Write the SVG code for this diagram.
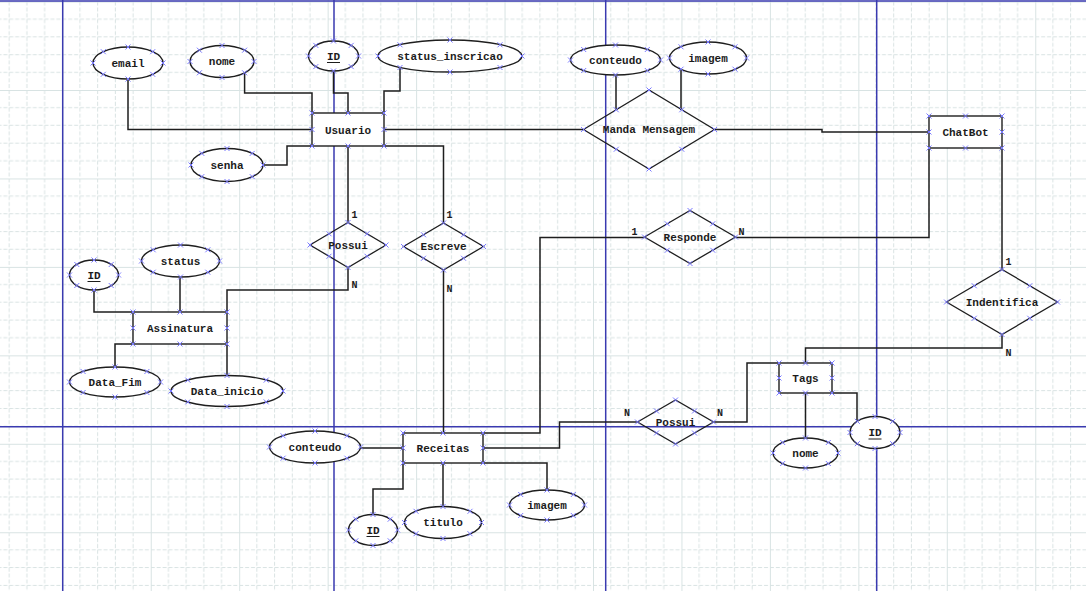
<svg xmlns="http://www.w3.org/2000/svg" xmlns:xlink="http://www.w3.org/1999/xlink" width="1086" height="591" viewBox="0 0 1086 591">
  <style>
    .lbl { font-family: "Liberation Mono", "DejaVu Sans Mono", monospace; font-size: 11px; font-weight: bold; fill: #1c1c1c; text-anchor: middle; }
    .card { font-family: "Liberation Mono", "DejaVu Sans Mono", monospace; font-size: 10px; font-weight: bold; fill: #1c1c1c; text-anchor: middle; }
    .ent { fill: #ffffff; stroke: #1e1e1e; stroke-width: 1.4; }
    .att { fill: #ffffff; stroke: #1e1e1e; stroke-width: 1.4; }
    .rel { fill: none; stroke: #1e1e1e; stroke-width: 1.3; }
    .page { stroke: #3a3ab0; stroke-width: 1.5; fill: none; }
    #links path { fill: none; stroke: #1e1e1e; stroke-width: 1.5; }
    .ul { stroke: #1c1c1c; stroke-width: 1; }
  </style>
  <defs>
    <!-- drawing grid: dashed minor lines, solid major lines every fifth -->
    <pattern id="grid" patternUnits="userSpaceOnUse" x="62.3" y="1.55" width="88.45" height="88.45">
      <g stroke="#d9e3e3" stroke-width="1" stroke-dasharray="4 1.897">
        <path d="M17.69 0V88.45M35.38 0V88.45M53.07 0V88.45M70.76 0V88.45"/>
        <path d="M0 17.69H88.45M0 35.38H88.45M0 53.07H88.45M0 70.76H88.45"/>
      </g>
      <path d="M0.5 0V88.45M0 0.5H88.45" stroke="#d8e3e3" stroke-width="1"/>
    </pattern>
    <!-- connection handle -->
    <path id="h" d="M-2.5 -2.5L2.5 2.5M-2.5 2.5L2.5 -2.5" stroke="#7a7aff" stroke-width="1" fill="none"/>
  </defs>

  <rect width="1086" height="591" fill="#ffffff"/>
  <rect width="1086" height="591" fill="url(#grid)"/>

  <!-- page break lines -->
  <g class="page">
    <path d="M62.7 0V591M334 0V591M605.7 0V591M876.7 0V591"/>
    <path d="M0 1H1086M0 426.7H1086"/>
  </g>

  <g id="links">
    <path d="M128 79V129.5H312"/>
    <path d="M244.6 72.8V93H312V113"/>
    <path d="M333.5 71V93H348V113"/>
    <path d="M400 67.5V91H384V113"/>
    <path d="M263 165H287V146H312"/>
    <path d="M384 129.5H583.5"/>
    <path d="M616 75V109.75"/>
    <path d="M681 69.2V109.75"/>
    <path d="M714.5 129.5H822V132H929"/>
    <path d="M348 146V222.5"/>
    <path d="M348 267.5V290H227V312"/>
    <path d="M384 146H443.5V223"/>
    <path d="M443.5 270V433"/>
    <path d="M929 148V237.5H735.5"/>
    <path d="M644.5 237.5H540V433H483"/>
    <path d="M94 290V312H133"/>
    <path d="M180 277V312"/>
    <path d="M115 367V344H133"/>
    <path d="M227 375.5V344"/>
    <path d="M360.5 448H403"/>
    <path d="M373 514.5V489H403V463"/>
    <path d="M443 506.5V463"/>
    <path d="M547 490V463H483"/>
    <path d="M483 448H559.5V422H637.5"/>
    <path d="M713.5 422H747V363H779"/>
    <path d="M805.5 363V348H1002V334.5"/>
    <path d="M1002 148V269.5"/>
    <path d="M805.5 393V438"/>
    <path d="M832 393H857V421.5"/>
  </g>

  <!-- entities -->
  <g id="usuario">
    <rect class="ent" x="312" y="113" width="72" height="33"/>
    <text class="lbl" x="348" y="133.5">Usuario</text>
    <use href="#h" x="312" y="113"/><use href="#h" x="348" y="113"/><use href="#h" x="384" y="113"/>
    <use href="#h" x="312" y="129.5"/><use href="#h" x="384" y="129.5"/>
    <use href="#h" x="312" y="146"/><use href="#h" x="348" y="146"/><use href="#h" x="384" y="146"/>
  </g>
  <g id="chatbot">
    <rect class="ent" x="929" y="116" width="73" height="32"/>
    <text class="lbl" x="965.5" y="135.5">ChatBot</text>
    <use href="#h" x="929" y="116"/><use href="#h" x="965.5" y="116"/><use href="#h" x="1002" y="116"/>
    <use href="#h" x="929" y="132"/><use href="#h" x="1002" y="132"/>
    <use href="#h" x="929" y="148"/><use href="#h" x="965.5" y="148"/><use href="#h" x="1002" y="148"/>
  </g>
  <g id="assinatura">
    <rect class="ent" x="133" y="312" width="94" height="32"/>
    <text class="lbl" x="180" y="331.5">Assinatura</text>
    <use href="#h" x="133" y="312"/><use href="#h" x="180" y="312"/><use href="#h" x="227" y="312"/>
    <use href="#h" x="133" y="328"/><use href="#h" x="227" y="328"/>
    <use href="#h" x="133" y="344"/><use href="#h" x="180" y="344"/><use href="#h" x="227" y="344"/>
  </g>
  <g id="receitas">
    <rect class="ent" x="403" y="433" width="80" height="30"/>
    <text class="lbl" x="443" y="451.5">Receitas</text>
    <use href="#h" x="403" y="433"/><use href="#h" x="443" y="433"/><use href="#h" x="483" y="433"/>
    <use href="#h" x="403" y="448"/><use href="#h" x="483" y="448"/>
    <use href="#h" x="403" y="463"/><use href="#h" x="443" y="463"/><use href="#h" x="483" y="463"/>
  </g>
  <g id="tags">
    <rect class="ent" x="779" y="363" width="53" height="30"/>
    <text class="lbl" x="805.5" y="381.5">Tags</text>
    <use href="#h" x="779" y="363"/><use href="#h" x="805.5" y="363"/><use href="#h" x="832" y="363"/>
    <use href="#h" x="779" y="378"/><use href="#h" x="832" y="378"/>
    <use href="#h" x="779" y="393"/><use href="#h" x="805.5" y="393"/><use href="#h" x="832" y="393"/>
  </g>

  <!-- relationships -->
  <g id="manda-mensagem">
    <path class="rel" d="M583.5 129.5L649 90L714.5 129.5L649 169Z"/>
    <text class="lbl" x="649" y="133">Manda Mensagem</text>
    <use href="#h" x="583.5" y="129.5"/><use href="#h" x="714.5" y="129.5"/><use href="#h" x="649" y="90"/><use href="#h" x="649" y="169"/>
    <use href="#h" x="616.25" y="109.75"/><use href="#h" x="681.75" y="109.75"/><use href="#h" x="616.25" y="149.25"/><use href="#h" x="681.75" y="149.25"/>
  </g>
  <g id="responde">
    <path class="rel" d="M644.5 237L690 210.5L735.5 237L690 263.5Z"/>
    <text class="lbl" x="690" y="240.5">Responde</text>
    <use href="#h" x="644.5" y="237"/><use href="#h" x="735.5" y="237"/><use href="#h" x="690" y="210.5"/><use href="#h" x="690" y="263.5"/>
    <use href="#h" x="667.25" y="223.75"/><use href="#h" x="712.75" y="223.75"/><use href="#h" x="667.25" y="250.25"/><use href="#h" x="712.75" y="250.25"/>
    <text class="card" x="634.5" y="234.5">1</text>
    <text class="card" x="741.5" y="234.5">N</text>
  </g>
  <g id="possui-assinatura">
    <path class="rel" d="M310 245L348 222.5L386 245L348 267.5Z"/>
    <text class="lbl" x="348" y="248.5">Possui</text>
    <use href="#h" x="310" y="245"/><use href="#h" x="386" y="245"/><use href="#h" x="348" y="222.5"/><use href="#h" x="348" y="267.5"/>
    <use href="#h" x="329" y="233.75"/><use href="#h" x="367" y="233.75"/><use href="#h" x="329" y="256.25"/><use href="#h" x="367" y="256.25"/>
    <text class="card" x="354.5" y="217.5">1</text>
    <text class="card" x="354.5" y="287.5">N</text>
  </g>
  <g id="escreve">
    <path class="rel" d="M403.5 246.5L443.5 223L483.5 246.5L443.5 270Z"/>
    <text class="lbl" x="443.5" y="250">Escreve</text>
    <use href="#h" x="403.5" y="246.5"/><use href="#h" x="483.5" y="246.5"/><use href="#h" x="443.5" y="223"/><use href="#h" x="443.5" y="270"/>
    <use href="#h" x="423.5" y="234.75"/><use href="#h" x="463.5" y="234.75"/><use href="#h" x="423.5" y="258.25"/><use href="#h" x="463.5" y="258.25"/>
    <text class="card" x="449.5" y="217.5">1</text>
    <text class="card" x="449.5" y="291.5">N</text>
  </g>
  <g id="indentifica">
    <path class="rel" d="M946.5 302L1002 269.5L1057.5 302L1002 334.5Z"/>
    <text class="lbl" x="1002" y="305.5">Indentifica</text>
    <use href="#h" x="946.5" y="302"/><use href="#h" x="1057.5" y="302"/><use href="#h" x="1002" y="269.5"/><use href="#h" x="1002" y="334.5"/>
    <use href="#h" x="974.25" y="285.75"/><use href="#h" x="1029.75" y="285.75"/><use href="#h" x="974.25" y="318.25"/><use href="#h" x="1029.75" y="318.25"/>
    <text class="card" x="1008.5" y="264.5">1</text>
    <text class="card" x="1008.5" y="355.5">N</text>
  </g>
  <g id="possui-tags">
    <path class="rel" d="M637.5 422L675.5 400L713.5 422L675.5 444Z"/>
    <text class="lbl" x="675.5" y="425.5">Possui</text>
    <use href="#h" x="637.5" y="422"/><use href="#h" x="713.5" y="422"/><use href="#h" x="675.5" y="400"/><use href="#h" x="675.5" y="444"/>
    <use href="#h" x="656.5" y="411"/><use href="#h" x="694.5" y="411"/><use href="#h" x="656.5" y="433"/><use href="#h" x="694.5" y="433"/>
    <text class="card" x="627" y="415.5">N</text>
    <text class="card" x="720" y="415.5">N</text>
  </g>

  <!-- attributes -->
  <g id="usuario-email">
    <ellipse class="att" cx="128" cy="63" rx="35" ry="16"/>
    <text class="lbl" x="128" y="66.5">email</text>
    <use href="#h" x="128" y="47"/><use href="#h" x="128" y="79"/><use href="#h" x="93" y="63"/><use href="#h" x="163" y="63"/>
    <use href="#h" x="103.3" y="51.7"/><use href="#h" x="152.7" y="51.7"/><use href="#h" x="103.3" y="74.3"/><use href="#h" x="152.7" y="74.3"/>
  </g>
  <g id="usuario-nome">
    <ellipse class="att" cx="222" cy="61.5" rx="32" ry="16"/>
    <text class="lbl" x="222" y="65">nome</text>
    <use href="#h" x="222" y="45.5"/><use href="#h" x="222" y="77.5"/><use href="#h" x="190" y="61.5"/><use href="#h" x="254" y="61.5"/>
    <use href="#h" x="199.4" y="50.2"/><use href="#h" x="244.6" y="50.2"/><use href="#h" x="199.4" y="72.8"/><use href="#h" x="244.6" y="72.8"/>
  </g>
  <g id="usuario-id">
    <ellipse class="att" cx="333.5" cy="56" rx="25" ry="15"/>
    <text class="lbl" x="333.5" y="59.5">ID</text>
    <line class="ul" x1="327" y1="62.5" x2="340" y2="62.5"/>
    <use href="#h" x="333.5" y="41"/><use href="#h" x="333.5" y="71"/><use href="#h" x="308.5" y="56"/><use href="#h" x="358.5" y="56"/>
    <use href="#h" x="315.8" y="45.4"/><use href="#h" x="351.2" y="45.4"/><use href="#h" x="315.8" y="66.6"/><use href="#h" x="351.2" y="66.6"/>
  </g>
  <g id="usuario-status-inscricao">
    <ellipse class="att" cx="450" cy="56" rx="72" ry="16"/>
    <text class="lbl" x="450" y="59.5">status_inscricao</text>
    <use href="#h" x="450" y="40"/><use href="#h" x="450" y="72"/><use href="#h" x="378" y="56"/><use href="#h" x="522" y="56"/>
    <use href="#h" x="400" y="44.8"/><use href="#h" x="500" y="44.8"/><use href="#h" x="400" y="67.5"/><use href="#h" x="500" y="67.5"/>
  </g>
  <g id="usuario-senha">
    <ellipse class="att" cx="227" cy="165" rx="36" ry="16.5"/>
    <text class="lbl" x="227" y="168.5">senha</text>
    <use href="#h" x="227" y="148.5"/><use href="#h" x="227" y="181.5"/><use href="#h" x="191" y="165"/><use href="#h" x="263" y="165"/>
    <use href="#h" x="201.8" y="153.4"/><use href="#h" x="252.2" y="153.4"/><use href="#h" x="201.8" y="176.6"/><use href="#h" x="252.2" y="176.6"/>
  </g>
  <g id="mensagem-conteudo">
    <ellipse class="att" cx="615.5" cy="60" rx="45" ry="15"/>
    <text class="lbl" x="615.5" y="63.5">conteudo</text>
    <use href="#h" x="615.5" y="45"/><use href="#h" x="615.5" y="75"/><use href="#h" x="570.5" y="60"/><use href="#h" x="660.5" y="60"/>
    <use href="#h" x="583.7" y="49.5"/><use href="#h" x="647.3" y="49.5"/><use href="#h" x="583.7" y="70.5"/><use href="#h" x="647.3" y="70.5"/>
  </g>
  <g id="mensagem-imagem">
    <ellipse class="att" cx="708" cy="58" rx="38.5" ry="16"/>
    <text class="lbl" x="708" y="61.5">imagem</text>
    <use href="#h" x="708" y="42"/><use href="#h" x="708" y="74"/><use href="#h" x="669.5" y="58"/><use href="#h" x="746.5" y="58"/>
    <use href="#h" x="681" y="46.8"/><use href="#h" x="735" y="46.8"/><use href="#h" x="681" y="69.2"/><use href="#h" x="735" y="69.2"/>
  </g>
  <g id="assinatura-id">
    <ellipse class="att" cx="94" cy="275" rx="24.5" ry="15"/>
    <text class="lbl" x="94" y="278.5">ID</text>
    <line class="ul" x1="87.5" y1="281.5" x2="100.5" y2="281.5"/>
    <use href="#h" x="94" y="260"/><use href="#h" x="94" y="290"/><use href="#h" x="69.5" y="275"/><use href="#h" x="118.5" y="275"/>
    <use href="#h" x="76.8" y="264.5"/><use href="#h" x="111.2" y="264.5"/><use href="#h" x="76.8" y="285.5"/><use href="#h" x="111.2" y="285.5"/>
  </g>
  <g id="assinatura-status">
    <ellipse class="att" cx="180.5" cy="261" rx="39" ry="16"/>
    <text class="lbl" x="180.5" y="264.5">status</text>
    <use href="#h" x="180.5" y="245"/><use href="#h" x="180.5" y="277"/><use href="#h" x="141.5" y="261"/><use href="#h" x="219.5" y="261"/>
    <use href="#h" x="153.2" y="249.8"/><use href="#h" x="207.8" y="249.8"/><use href="#h" x="153.2" y="272.2"/><use href="#h" x="207.8" y="272.2"/>
  </g>
  <g id="assinatura-data-fim">
    <ellipse class="att" cx="115" cy="382" rx="45.5" ry="15"/>
    <text class="lbl" x="115" y="385.5">Data_Fim</text>
    <use href="#h" x="115" y="367"/><use href="#h" x="115" y="397"/><use href="#h" x="69.5" y="382"/><use href="#h" x="160.5" y="382"/>
    <use href="#h" x="83.1" y="371.5"/><use href="#h" x="146.9" y="371.5"/><use href="#h" x="83.1" y="392.5"/><use href="#h" x="146.9" y="392.5"/>
  </g>
  <g id="assinatura-data-inicio">
    <ellipse class="att" cx="227" cy="391" rx="56" ry="15.5"/>
    <text class="lbl" x="227" y="394.5">Data_inicio</text>
    <use href="#h" x="227" y="375.5"/><use href="#h" x="227" y="406.5"/><use href="#h" x="171" y="391"/><use href="#h" x="283" y="391"/>
    <use href="#h" x="187.8" y="380.1"/><use href="#h" x="266.2" y="380.1"/><use href="#h" x="187.8" y="401.9"/><use href="#h" x="266.2" y="401.9"/>
  </g>
  <g id="receitas-conteudo">
    <ellipse class="att" cx="315" cy="447" rx="45.5" ry="16"/>
    <text class="lbl" x="315" y="450.5">conteudo</text>
    <use href="#h" x="315" y="431"/><use href="#h" x="315" y="463"/><use href="#h" x="269.5" y="447"/><use href="#h" x="360.5" y="447"/>
    <use href="#h" x="283.1" y="435.8"/><use href="#h" x="346.9" y="435.8"/><use href="#h" x="283.1" y="458.2"/><use href="#h" x="346.9" y="458.2"/>
  </g>
  <g id="receitas-id">
    <ellipse class="att" cx="373" cy="530" rx="24.5" ry="15.5"/>
    <text class="lbl" x="373" y="533.5">ID</text>
    <line class="ul" x1="366.5" y1="536.5" x2="379.5" y2="536.5"/>
    <use href="#h" x="373" y="514.5"/><use href="#h" x="373" y="545.5"/><use href="#h" x="348.5" y="530"/><use href="#h" x="397.5" y="530"/>
    <use href="#h" x="355.8" y="519.2"/><use href="#h" x="390.2" y="519.2"/><use href="#h" x="355.8" y="540.8"/><use href="#h" x="390.2" y="540.8"/>
  </g>
  <g id="receitas-titulo">
    <ellipse class="att" cx="443" cy="522.5" rx="38.5" ry="16"/>
    <text class="lbl" x="443" y="526">titulo</text>
    <use href="#h" x="443" y="506.5"/><use href="#h" x="443" y="538.5"/><use href="#h" x="404.5" y="522.5"/><use href="#h" x="481.5" y="522.5"/>
    <use href="#h" x="416" y="511.3"/><use href="#h" x="470" y="511.3"/><use href="#h" x="416" y="533.7"/><use href="#h" x="470" y="533.7"/>
  </g>
  <g id="receitas-imagem">
    <ellipse class="att" cx="547" cy="505" rx="37.5" ry="15"/>
    <text class="lbl" x="547" y="508.5">imagem</text>
    <use href="#h" x="547" y="490"/><use href="#h" x="547" y="520"/><use href="#h" x="509.5" y="505"/><use href="#h" x="584.5" y="505"/>
    <use href="#h" x="520.7" y="494.5"/><use href="#h" x="573.3" y="494.5"/><use href="#h" x="520.7" y="515.5"/><use href="#h" x="573.3" y="515.5"/>
  </g>
  <g id="tags-nome">
    <ellipse class="att" cx="805.5" cy="453" rx="32.5" ry="15"/>
    <text class="lbl" x="805.5" y="456.5">nome</text>
    <use href="#h" x="805.5" y="438"/><use href="#h" x="805.5" y="468"/><use href="#h" x="773" y="453"/><use href="#h" x="838" y="453"/>
    <use href="#h" x="782.7" y="442.5"/><use href="#h" x="828.3" y="442.5"/><use href="#h" x="782.7" y="463.5"/><use href="#h" x="828.3" y="463.5"/>
  </g>
  <g id="tags-id">
    <ellipse class="att" cx="875" cy="432.5" rx="25" ry="16"/>
    <text class="lbl" x="875" y="436">ID</text>
    <line class="ul" x1="868.5" y1="439" x2="881.5" y2="439"/>
    <use href="#h" x="875" y="416.5"/><use href="#h" x="875" y="448.5"/><use href="#h" x="850" y="432.5"/><use href="#h" x="900" y="432.5"/>
    <use href="#h" x="857.3" y="421.3"/><use href="#h" x="892.7" y="421.3"/><use href="#h" x="857.3" y="443.7"/><use href="#h" x="892.7" y="443.7"/>
  </g>
</svg>
